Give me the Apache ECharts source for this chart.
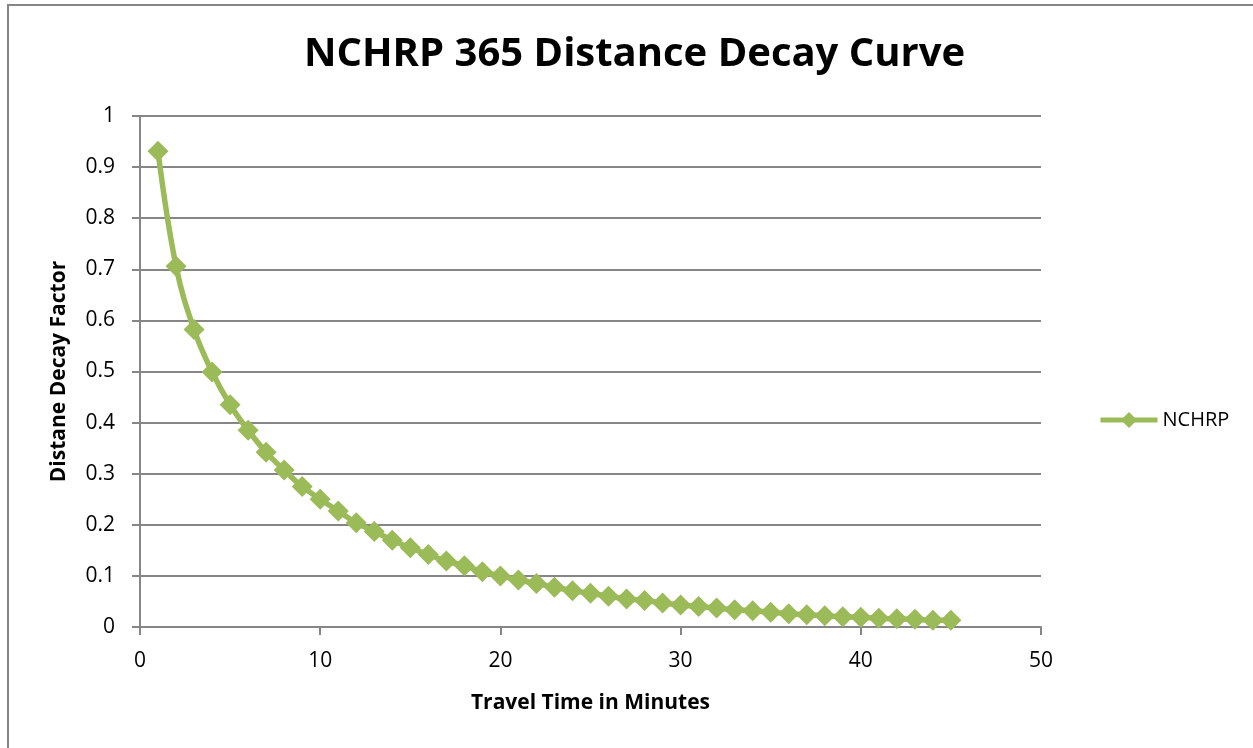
<!DOCTYPE html>
<html>
<head>
<meta charset="utf-8">
<title>NCHRP 365 Distance Decay Curve</title>
<script src="https://cdn.jsdelivr.net/npm/echarts@6/dist/echarts.min.js"></script>
<style>
  html, body { margin: 0; padding: 0; background: #fff; }
  #chart { width: 1253px; height: 748px; }
</style>
</head>
<body>
<div id="chart"></div>
<script>
// travel time (minutes)
var minutes = [1, 2, 3, 4, 5, 6, 7, 8, 9, 10, 11, 12, 13, 14, 15, 16, 17, 18, 19, 20,
  21, 22, 23, 24, 25, 26, 27, 28, 29, 30, 31, 32, 33, 34, 35, 36, 37, 38, 39, 40,
  41, 42, 43, 44, 45]
// distance decay factor
var decay = [0.931, 0.706, 0.582, 0.499, 0.435, 0.385, 0.342, 0.307, 0.275, 0.250,
  0.227, 0.204, 0.187, 0.170, 0.155, 0.142, 0.129, 0.120, 0.108, 0.100,
  0.092, 0.085, 0.078, 0.071, 0.066, 0.060, 0.055, 0.052, 0.047, 0.043,
  0.040, 0.037, 0.034, 0.032, 0.029, 0.026, 0.024, 0.022, 0.020, 0.019,
  0.017, 0.016, 0.015, 0.013, 0.013]
var seriesName = 'NCHRP'

var points = minutes.map(function (m, i) { return [m, decay[i]] })
var font = '"Open Sans", "Liberation Sans", sans-serif'
var gridColor = '#868686'
var green = '#9BBB59'

var chart = echarts.init(document.getElementById('chart'))
var option = {
  backgroundColor: '#fff',
  animation: false,
  graphic: [
    {
      type: 'rect',
      shape: { x: 8, y: 5, width: 1300, height: 800 },
      style: { fill: 'none', stroke: gridColor, lineWidth: 2 },
      silent: true
    }
  ],
  title: {
    text: 'NCHRP 365 Distance Decay Curve',
    left: 299,
    top: 30,
    textStyle: { fontFamily: font, fontSize: 40, fontWeight: 'bold', color: '#000' }
  },
  legend: {
    data: [seriesName],
    left: 1093,
    top: 405,
    itemWidth: 57,
    itemHeight: 20,
    itemGap: 4,
    lineStyle: { width: 5 },
    textStyle: { fontFamily: font, fontSize: 20, color: '#000' }
  },
  grid: { left: 140, right: 212, top: 116, bottom: 121 },
  xAxis: {
    type: 'value',
    min: 0,
    max: 50,
    interval: 10,
    name: 'Travel Time in Minutes',
    nameLocation: 'middle',
    nameGap: 66,
    nameTextStyle: { fontFamily: font, fontSize: 21, fontWeight: 'bold', color: '#000' },
    axisLine: { lineStyle: { color: gridColor, width: 2 } },
    axisTick: { show: true, length: 8, lineStyle: { color: gridColor, width: 2 } },
    axisLabel: { fontFamily: font, fontSize: 21, color: '#000', margin: 24 },
    splitLine: { show: false }
  },
  yAxis: {
    type: 'value',
    min: 0,
    max: 1,
    interval: 0.1,
    name: 'Distane Decay Factor',
    nameLocation: 'middle',
    nameGap: 70,
    nameTextStyle: { fontFamily: font, fontSize: 21, fontWeight: 'bold', color: '#000' },
    axisLine: { show: true, lineStyle: { color: gridColor, width: 2 } },
    axisTick: { show: true, length: 8, lineStyle: { color: gridColor, width: 2 } },
    axisLabel: {
      fontFamily: font, fontSize: 21, color: '#000', margin: 25,
      formatter: function (v) { return String(Math.round(v * 10) / 10) }
    },
    splitLine: { show: true, lineStyle: { color: gridColor, width: 2 } }
  },
  series: [
    {
      name: seriesName,
      type: 'line',
      data: points,
      smooth: 0.4,
      symbol: 'diamond',
      symbolSize: 21,
      itemStyle: { color: green },
      lineStyle: { color: green, width: 5.5 }
    }
  ]
}
chart.setOption(option)
</script>
</body>
</html>
